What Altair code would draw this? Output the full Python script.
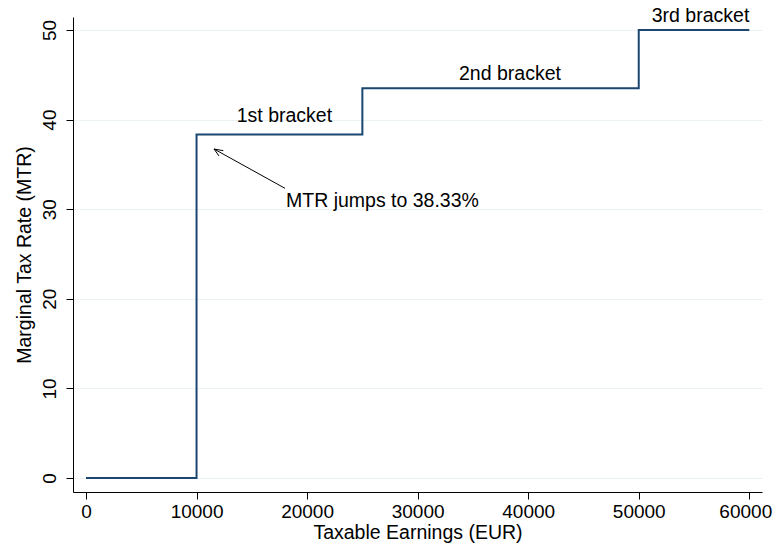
import altair as alt
import pandas as pd

# Step line of the marginal tax rate
earn = [0, 10000, 10000, 25000, 25000, 50000, 50000, 60000]
mtr = [0, 0, 38.33, 38.33, 43.5, 43.5, 50, 50]

# Bracket labels
lab_text = ["1st bracket", "2nd bracket", "3rd bracket"]
lab_x = [17950, 38350, 55590]
lab_y = [39.7, 44.42, 50.9]

# Arrow annotation
note_text = ["MTR jumps to 38.33%"]
note_x = [18091]
note_y = [30.25]
arrow_x = [18001, 11578, 11578]
arrow_y = [32.33, 36.72, 36.72]
arrow_x2 = [11578, 12420, 12031]
arrow_y2 = [36.72, 36.53, 35.94]

x_ticks = [0, 10000, 20000, 30000, 40000, 50000, 60000]
y_ticks = [0, 10, 20, 30, 40, 50]

FONT = "Liberation Sans"
NAVY = "#1a476f"

line_df = pd.DataFrame({"earn": earn, "mtr": mtr, "idx": list(range(len(earn)))})
lab_df = pd.DataFrame({"t": lab_text, "x": lab_x, "y": lab_y})
note_df = pd.DataFrame({"t": note_text, "x": note_x, "y": note_y})
arr_df = pd.DataFrame({"x": arrow_x, "y": arrow_y, "x2": arrow_x2, "y2": arrow_y2})

xscale = alt.Scale(domain=[-1176, 61150], nice=False, zero=False)
yscale = alt.Scale(domain=[-1.56, 51.45], nice=False, zero=False)

xaxis = alt.Axis(
    title="Taxable Earnings (EUR)", values=x_ticks, grid=False, format="d",
    tickSize=7, labelPadding=3, titlePadding=2,
    labelOffset={"condition": {"test": "datum.value == 60000", "value": -4}, "value": 0},
)
yaxis = alt.Axis(
    title="Marginal Tax Rate (MTR)", values=y_ticks, grid=True, format="d",
    tickSize=7, labelAngle=270, labelAlign="center", labelBaseline="bottom",
    labelPadding=7, titlePadding=6,
)

line = alt.Chart(line_df).mark_line(color=NAVY, strokeWidth=2).encode(
    x=alt.X("earn:Q", scale=xscale, axis=xaxis),
    y=alt.Y("mtr:Q", scale=yscale, axis=yaxis),
    order="idx:Q",
)

labels = alt.Chart(lab_df).mark_text(
    font=FONT, fontSize=19.5, color="black", align="center", baseline="alphabetic"
).encode(x=alt.X("x:Q", scale=xscale), y=alt.Y("y:Q", scale=yscale), text="t:N")

note = alt.Chart(note_df).mark_text(
    font=FONT, fontSize=19.5, color="black", align="left", baseline="alphabetic"
).encode(x=alt.X("x:Q", scale=xscale), y=alt.Y("y:Q", scale=yscale), text="t:N")

arrow = alt.Chart(arr_df).mark_rule(color="black", strokeWidth=1).encode(
    x=alt.X("x:Q", scale=xscale), y=alt.Y("y:Q", scale=yscale),
    x2="x2:Q", y2="y2:Q",
)

chart = (
    alt.layer(line, arrow, labels, note)
    .properties(
        width=689, height=475,
        autosize=alt.AutoSizeParams(type="none"),
        padding={"left": 65, "top": 9, "right": 10, "bottom": 52},
        background="white",
    )
    .configure_view(stroke=None)
    .configure_axis(
        domainColor="black", domainWidth=1, tickColor="black", tickWidth=1,
        labelColor="black", labelFont=FONT, labelFontSize=19,
        titleColor="black", titleFont=FONT, titleFontSize=19.5, titleFontWeight="normal",
        gridColor="#eaf2f3", gridWidth=1,
    )
)

chart.save("out.html", embed_options={"renderer": "svg", "actions": False})
